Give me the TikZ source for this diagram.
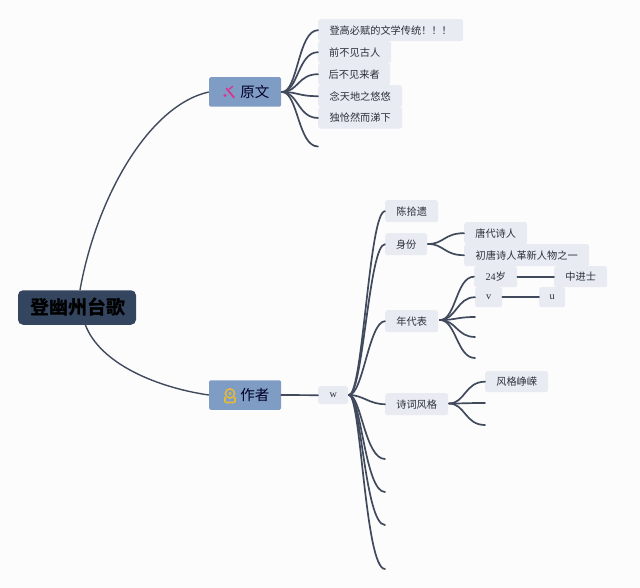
\documentclass[tikz,border=0pt]{standalone}
\usepackage{fontspec}
\usetikzlibrary{calc}
\setmainfont{Noto Sans CJK SC}
\newfontfamily\latinf{Liberation Serif}
\definecolor{bgc}{HTML}{FCFCFD}
\definecolor{leafc}{HTML}{E8EBF1}
\definecolor{mainc}{HTML}{7F9CC4}
\definecolor{rootc}{HTML}{34455F}
\definecolor{linec}{HTML}{404A5C}
\definecolor{txtc}{HTML}{2A2F3A}
\definecolor{iconp}{HTML}{D9358F}
\definecolor{icong}{HTML}{E3B93C}
\tikzset{
 leaf/.style={fill=leafc,rounded corners=2.5pt,inner sep=0pt,anchor=north west,text=txtc,font=\fontsize{10.2}{10.2}\selectfont,align=center},
 mainbox/.style={fill=mainc,rounded corners=1.5pt,inner sep=0pt,minimum width=72pt,minimum height=29.5pt,text=black!85!blue},
 link/.style={draw=linec,line width=1.7pt,line cap=round},
 rootlink/.style={draw=linec,line width=1.4pt},
}
\newcommand{\lf}[6]{\node[leaf,minimum width=#3pt,minimum height=#4pt] (#5) at (#1pt,-#2pt) {#6};}
% curve from (a) to (b) with horizontal tangents; #3 and #4 are the handle lengths
\newcommand{\cv}[4]{\draw[link] (#1) .. controls ($(#1)+(#3,0)$) and ($(#2)+(-#4,0)$) .. (#2);}
\begin{document}
\begin{tikzpicture}[x=1pt,y=-1pt]
\useasboundingbox (0,0) rectangle (640,588);
\fill[bgc] (0,0) rectangle (640,588);
% free ends and junctions
\coordinate (y6) at (318,146.5);
\coordinate (a5) at (385,459);
\coordinate (a6) at (385,492);
\coordinate (a7) at (385,525);
\coordinate (a8) at (385,569);
\coordinate (n3) at (475,317);
\coordinate (n4) at (475,337);
\coordinate (n5) at (475,358);
\coordinate (s2) at (485,403);
\coordinate (s3) at (485,425);
\coordinate (yj) at (282,92);
\coordinate (wj) at (349,395);
\coordinate (sj) at (428,244);
\coordinate (nj) at (440,320);
\coordinate (pj) at (449,403.5);
% main nodes
\node[fill=rootc,rounded corners=5pt,inner sep=0pt,minimum width=118pt,minimum height=34.5pt,text=black,font=\fontsize{19}{19}\selectfont\bfseries] (root) at (77,307.5) {\hspace*{1.5pt}登幽州台歌};
\node[mainbox] (yw) at (245,92) {\hspace*{19.5pt}\fontsize{14.5}{14.5}\selectfont 原文};
\node[mainbox] (zz) at (245,395) {\hspace*{19.5pt}\fontsize{14.5}{14.5}\selectfont 作者};
\coordinate (r1) at (80,290);
\coordinate (r2) at (85,324);
\draw[rootlink] (r1) .. controls (97,195) and (150,105) .. (yw.west);
\draw[rootlink] (r2) .. controls (100,365) and (160,388) .. (zz.west);
% icons
\draw[iconp,line width=1.8pt,line cap=round] (226.5,88.5) -- (234,97.5);
\draw[iconp,line width=1.4pt,line cap=round] (229.5,89) -- (232.5,86.5);
\fill[iconp] (225,95.5) circle (1.6);
\draw[icong,line width=1.6pt] (230,393.5) circle (4.6);
\draw[icong,line width=1.6pt,rounded corners=1pt] (225,397) -- (225,402.5) -- (235,402.5) -- (235,397);
\fill[icong] (230,393.5) circle (1.7);
% leaves
\lf{318}{19}{145}{22}{y1}{登高必赋的文学传统！！！}
\lf{318}{41}{73}{22}{y2}{前不见古人}
\lf{318}{63}{72}{22}{y3}{后不见来者}
\lf{318}{85}{84}{22}{y4}{念天地之悠悠}
\lf{318}{107}{84}{21.5}{y5}{独怆然而涕下}
\lf{318}{386}{30}{18}{w}{\latinf w}
\lf{385}{200}{53}{22}{a1}{陈拾遗}
\lf{385}{233}{42}{22}{a2}{身份}
\lf{385}{310}{53}{22}{a3}{年代表}
\lf{385}{393}{63}{22}{a4}{诗词风格}
\lf{464}{222}{63}{22}{b1}{唐代诗人}
\lf{464}{244}{125}{22}{b2}{初唐诗人革新人物之一}
\lf{474}{266}{43}{21}{n1}{\latinf 24\fontspec{Noto Sans CJK SC}岁}
\lf{554}{266}{53}{21}{k1}{中进士}
\lf{475}{287}{27}{20}{n2}{\latinf v}
\lf{539}{287}{26}{20}{k2}{\latinf u}
\lf{485}{371}{63}{21}{s1}{风格峥嵘}
% connectors
\cv{yj}{y1.west}{16}{20}
\cv{yj}{y2.west}{16}{20}
\cv{yj}{y3.west}{16}{20}
\cv{yj}{y4.west}{16}{20}
\cv{yj}{y5.west}{16}{20}
\cv{yj}{y6}{16}{20}
\draw[link] (zz.east) -- (w.west);
\cv{wj}{a1.west}{14}{16}
\cv{wj}{a2.west}{14}{16}
\cv{wj}{a3.west}{14}{16}
\cv{wj}{a4.west}{14}{16}
\cv{wj}{a5}{12}{20}
\cv{wj}{a6}{12}{20}
\cv{wj}{a7}{12}{20}
\cv{wj}{a8}{12}{20}
\cv{sj}{b1.west}{16}{20}
\cv{sj}{b2.west}{16}{20}
\cv{nj}{n1.west}{16}{18}
\cv{nj}{n2.west}{16}{18}
\cv{nj}{n3}{16}{18}
\cv{nj}{n4}{16}{18}
\cv{nj}{n5}{16}{18}
\draw[link] (n1.east) -- (k1.west);
\draw[link] (n2.east) -- (k2.west);
\cv{pj}{s1.west}{16}{20}
\cv{pj}{s2}{16}{20}
\cv{pj}{s3}{16}{20}
\end{tikzpicture}
\end{document}
